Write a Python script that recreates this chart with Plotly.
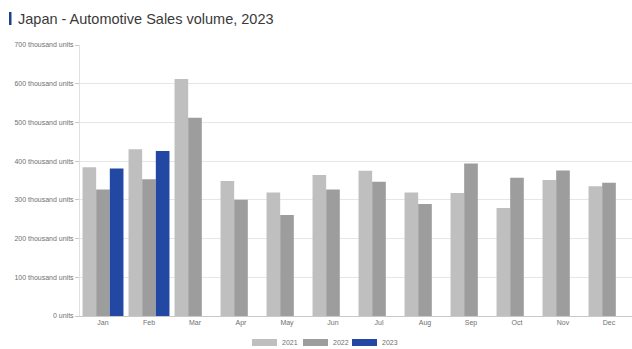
import plotly.graph_objects as go

# Monthly automotive sales in Japan, thousand units
months = ["Jan", "Feb", "Mar", "Apr", "May", "Jun", "Jul", "Aug", "Sep", "Oct", "Nov", "Dec"]
sales_2021 = [384, 431, 612, 349, 319, 364, 375, 319, 318, 279, 351, 335]
sales_2022 = [327, 353, 512, 300, 261, 327, 347, 289, 394, 357, 376, 344]
sales_2023 = [381, 426, None, None, None, None, None, None, None, None, None, None]

series_names = ["2021", "2022", "2023"]
series_colors = ["#bfbfbf", "#9d9d9e", "#2348a3"]

tick_vals = [0, 100, 200, 300, 400, 500, 600, 700]
tick_text = ["0 units"] + [f"{v} thousand units" for v in tick_vals[1:]]

fig = go.Figure()
for name, vals, color in zip(series_names, [sales_2021, sales_2022, sales_2023], series_colors):
    fig.add_trace(go.Bar(x=months, y=vals, name=name, marker_color=color,
                         marker_line_width=0, showlegend=False))

font_family = "Liberation Sans, Arial, sans-serif"

# Plot area in pixels: left 80, right 632, top 45, bottom 316
PL, PW, PB, PH = 80, 552, 316, 271


def px_x(x):
    return (x - PL) / PW


def px_y(y):
    return (PB - y) / PH


fig.update_layout(
    width=632, height=349,
    margin=dict(l=80, r=0, t=45, b=33),
    paper_bgcolor="white", plot_bgcolor="white",
    barmode="group", bargap=0.11, bargroupgap=0,
    font=dict(family=font_family, size=7, color="#707070"),
    xaxis=dict(showgrid=False, showline=True, linecolor="#c8c8c8", linewidth=1,
               ticks="", tickfont=dict(size=7, color="#707070")),
    yaxis=dict(range=[0, 700], tickvals=tick_vals, ticktext=tick_text,
               showgrid=True, gridcolor="#e6e6e6", gridwidth=1,
               showline=True, linecolor="#e0e0e0", zeroline=False,
               ticks="outside", ticklen=4, tickcolor="#c8c8c8",
               tickfont=dict(size=7, color="#707070")),
)

# Title with a small accent bar
fig.add_shape(type="rect", xref="paper", yref="paper",
              x0=px_x(9), x1=px_x(11.5), y0=px_y(25), y1=px_y(12),
              fillcolor="#1f3f8f", line_width=0)
fig.add_annotation(text="Japan - Automotive Sales volume, 2023", xref="paper", yref="paper",
                   x=px_x(16), y=px_y(18.5), xanchor="left", yanchor="middle",
                   showarrow=False, font=dict(family=font_family, size=14.5, color="#3a3a3a"))

# Legend drawn below the axis: wide swatches followed by the series label
legend_x = [252, 303, 352]
for name, color, lx in zip(series_names, series_colors, legend_x):
    fig.add_shape(type="rect", xref="paper", yref="paper",
                  x0=px_x(lx), x1=px_x(lx + 25), y0=px_y(346), y1=px_y(339),
                  fillcolor=color, line_width=0)
    fig.add_annotation(text=name, xref="paper", yref="paper",
                       x=px_x(lx + 28), y=px_y(342.5),
                       xanchor="left", yanchor="middle", showarrow=False,
                       font=dict(family=font_family, size=7, color="#707070"))

fig.write_html("out.html")
